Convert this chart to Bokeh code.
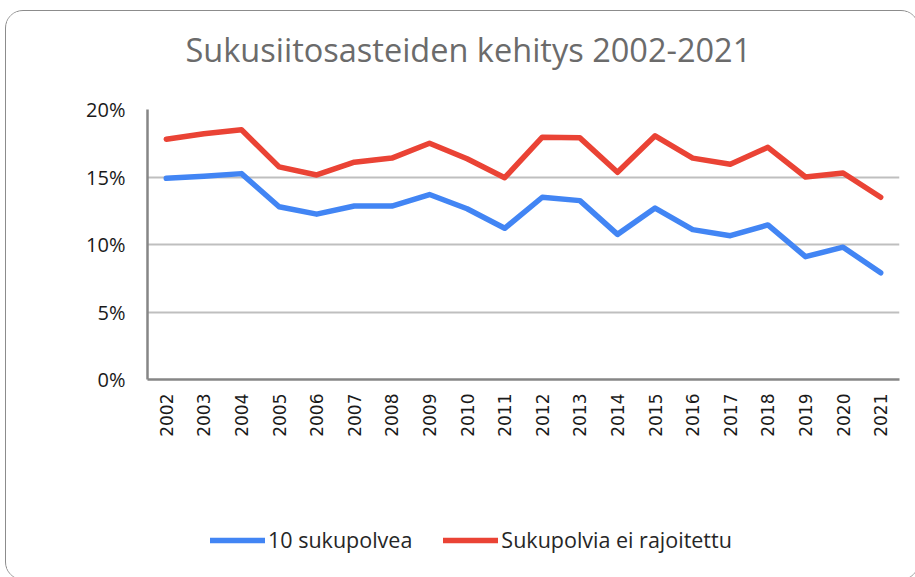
from bokeh.plotting import figure
from bokeh.layouts import column
from bokeh.models import (FactorRange, Range1d, NumeralTickFormatter, Legend, LegendItem,
                          ColumnDataSource, FixedTicker)
from bokeh.embed import file_html
from bokeh.resources import INLINE
import math

years = [str(y) for y in range(2002, 2022)]
sukupolvea_10 = [14.9, 15.05, 15.25, 12.8, 12.25, 12.85, 12.85, 13.7, 12.65, 11.2,
                 13.5, 13.25, 10.75, 12.7, 11.1, 10.65, 11.45, 9.1, 9.8, 7.9]
ei_rajoitettu = [17.8, 18.2, 18.5, 15.75, 15.15, 16.1, 16.4, 17.5, 16.35, 14.95,
                 17.95, 17.9, 15.35, 18.05, 16.4, 15.95, 17.2, 15.0, 15.3, 13.5]
y_ticks = [0, 0.05, 0.10, 0.15, 0.20]
series_names = ["10 sukupolvea", "Sukupolvia ei rajoitettu"]
series_colors = ["#4285f4", "#ea4335"]
title_text = "Sukusiitosasteiden kehitys 2002-2021"

src = ColumnDataSource(dict(
    year=years,
    a=[v / 100 for v in sukupolvea_10],
    b=[v / 100 for v in ei_rajoitettu],
))


def blank(height, **kw):
    f = figure(width=912, height=height, x_range=FactorRange(*years, range_padding=0),
               y_range=Range1d(1, 2), output_backend="svg", toolbar_location=None,
               x_axis_type=None, y_axis_type=None, **kw)
    f.outline_line_color = None
    f.xgrid.grid_line_color = None
    f.ygrid.grid_line_color = None
    f.border_fill_color = "white"
    f.background_fill_color = "white"
    return f


# Title strip
t = blank(80, min_border_left=141, min_border_right=19, min_border_top=0, min_border_bottom=0)
t.title.text = title_text
t.title.align = "left"
t.title.offset = 38
t.title.text_font = "Open Sans"
t.title.text_font_size = "32.5px"
t.title.text_font_style = "normal"
t.title.text_color = "#6b6b6b"
t.title.standoff = 26

# Main chart
p = figure(width=912, height=388, x_range=FactorRange(*years, range_padding=0),
           y_range=Range1d(0, 0.20), output_backend="svg", toolbar_location=None,
           min_border_left=141, min_border_right=19, min_border_bottom=100, min_border_top=18)
p.outline_line_color = None
p.background_fill_color = "white"
p.border_fill_color = "white"

r1 = p.line("year", "a", source=src, line_color=series_colors[0], line_width=5.5,
            line_cap="round", line_join="round")
r2 = p.line("year", "b", source=src, line_color=series_colors[1], line_width=5.5,
            line_cap="round", line_join="round")

p.xgrid.grid_line_color = None
p.ygrid.grid_line_color = "#bfbfbf"
p.ygrid.grid_line_width = 2
p.yaxis.ticker = FixedTicker(ticks=y_ticks)
p.yaxis.formatter = NumeralTickFormatter(format="0%")
p.yaxis.axis_line_color = "#868686"
p.yaxis.axis_line_width = 2.5
p.yaxis.major_tick_line_color = None
p.yaxis.minor_tick_line_color = None
p.yaxis.major_tick_out = 0
p.yaxis.major_label_standoff = 22
p.yaxis.major_label_text_font = "Open Sans"
p.yaxis.major_label_text_font_size = "20px"
p.yaxis.major_label_text_color = "#1a1a1a"

p.xaxis.axis_line_color = "#868686"
p.xaxis.axis_line_width = 2.5
p.xaxis.major_tick_line_color = None
p.xaxis.major_tick_out = 0
p.xaxis.major_label_orientation = math.pi / 2
p.xaxis.major_label_standoff = 14
p.xaxis.major_label_text_font = "DejaVu Sans"
p.xaxis.major_label_text_font_size = "17px"
p.xaxis.major_label_text_color = "#1a1a1a"

# Legend strip (same data, plotted out of view so only the legend shows)
q = blank(100, min_border=0)
l1 = q.line("year", "a", source=src, line_color=series_colors[0], line_width=5.5, line_cap="round")
l2 = q.line("year", "b", source=src, line_color=series_colors[1], line_width=5.5, line_cap="round")

legend = Legend(items=[LegendItem(label=series_names[0], renderers=[l1]),
                       LegendItem(label=series_names[1], renderers=[l2])],
                orientation="horizontal", location=(63, 25))
legend.label_text_font = "Open Sans"
legend.label_text_font_size = "21.5px"
legend.label_text_color = "#262626"
legend.glyph_width = 55
legend.glyph_height = 20
legend.label_standoff = 3
legend.spacing = 31
legend.padding = 0
legend.margin = 0
legend.border_line_alpha = 0
legend.background_fill_alpha = 0
q.add_layout(legend, "center")

layout = column(t, p, q, spacing=0)
layout.styles = {"border": "1.5px solid #8c8c8c", "border-radius": "18px",
                 "position": "relative", "left": "5px", "top": "10px",
                 "overflow": "hidden", "background": "white"}

open("out.html", "w").write(file_html(layout, INLINE))
